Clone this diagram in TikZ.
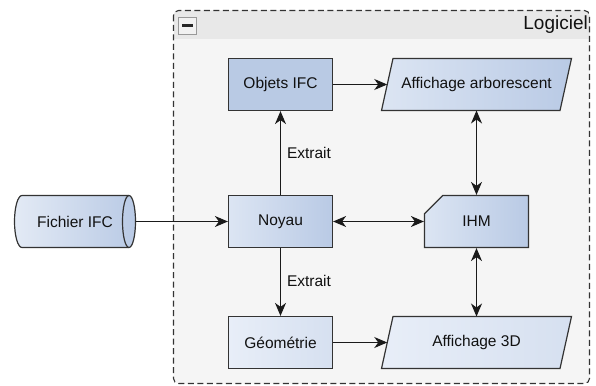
\documentclass[tikz,border=0pt]{standalone}
\usepackage{fontspec}
\setmainfont{Liberation Sans}
\usetikzlibrary{arrows.meta,calc,shapes.misc}
\definecolor{bodygray}{HTML}{F5F5F5}
\definecolor{headgray}{HTML}{E8E8E8}
\definecolor{lineC}{HTML}{333333}
\definecolor{arrC}{HTML}{1A1A1A}
\definecolor{txtC}{HTML}{111111}
\definecolor{gL}{HTML}{DCE5F3}
\definecolor{gD}{HTML}{B9CAE5}
\definecolor{objC}{HTML}{B9CAE4}
\definecolor{pL}{HTML}{E8EEF8}
\definecolor{pD}{HTML}{D6E0F0}
\definecolor{fL}{HTML}{E3EAF5}
\begin{document}
\begin{tikzpicture}[x=1pt,y=-1pt,
  txt/.style={text=txtC,font=\fontsize{15.5}{18}\selectfont,inner sep=0pt},
  box/.style={txt,draw=lineC,line width=1.2pt,minimum width=104pt,minimum height=52pt},
  holder/.style={inner sep=0pt,outer sep=0pt},
  shp/.style={draw=lineC,line width=1.2pt},
  arr/.style={draw=arrC,line width=1.1pt,-{Stealth[length=13pt,width=11pt,inset=4pt]}},
  arrb/.style={draw=arrC,line width=1.1pt,{Stealth[length=13pt,width=11pt,inset=4pt]}-{Stealth[length=13pt,width=11pt,inset=4pt]}},
  elbl/.style={txt,anchor=west,xshift=6pt}]
\useasboundingbox (0,0) rectangle (596,385);
% container
\node[holder,fill=bodygray,rounded corners=5pt,minimum width=416pt,minimum height=373pt] (sw) at (381.5,197) {};
\begin{scope}
  \clip[rounded corners=5pt] (sw.north west) rectangle (sw.south east);
  \fill[headgray] (sw.north west) rectangle ($(sw.north east)+(0,28.5)$);
\end{scope}
\draw[lineC,line width=1.1pt,dash pattern=on 6pt off 3.5pt,rounded corners=5pt] (sw.north west) rectangle (sw.south east);
\node[holder,draw=gray!80,fill=headgray!60,line width=0.8pt,minimum width=18pt,minimum height=17pt] (minus) at (187.5,25.5) {};
\fill[black!85] ($(minus.center)+(-5.5,-1.5)$) rectangle ($(minus.center)+(5.5,1.5)$);
\node[txt,anchor=east,font=\fontsize{19}{22}\selectfont] (logi) at (588,25) {Logiciel};
% plain boxes
\node[box,fill=objC] (obj) at (280.5,84.5) {Objets IFC};
\node[box,left color=gL,right color=gD] (noy) at (280.5,221.5) {Noyau};
\node[box,left color=pL,right color=pD] (geo) at (280.5,342.5) {Géométrie};
% IHM
\node[txt,chamfered rectangle,chamfered rectangle corners=north west,chamfered rectangle xsep=13pt,chamfered rectangle ysep=13pt,
  draw=lineC,line width=1.2pt,left color=gL,right color=gD,minimum width=104pt,minimum height=52pt] (ihm) at (476.5,221.5) {IHM};
% parallelograms
\node[holder,minimum width=178.5pt,minimum height=52pt] (aa) at (476.5,84.5) {};
\shadedraw[shp,left color=gL,right color=gD] ($(aa.north west)+(5.75,0)$) -- ($(aa.north east)+(5.75,0)$) -- ($(aa.south east)+(-5.75,0)$) -- ($(aa.south west)+(-5.75,0)$) -- cycle;
\node[txt] (aat) at (aa) {Affichage arborescent};
\node[holder,minimum width=178.5pt,minimum height=52pt] (a3) at (476.5,342.5) {};
\shadedraw[shp,left color=pL,right color=pD] ($(a3.north west)+(5.75,0)$) -- ($(a3.north east)+(5.75,0)$) -- ($(a3.south east)+(-5.75,0)$) -- ($(a3.south west)+(-5.75,0)$) -- cycle;
\node[txt] (a3t) at (a3) {Affichage 3D};
% cylinder
\node[holder,minimum width=121pt,minimum height=52pt] (fic) at (75,221.5) {};
\shadedraw[shp,left color=fL,right color=gD] ($(fic.north west)+(7.5,0)$) -- ($(fic.north east)+(-6.5,0)$) arc[start angle=90,end angle=-90,x radius=6.5pt,y radius=26pt] -- ($(fic.south west)+(7.5,0)$) arc[start angle=270,end angle=90,x radius=7.5pt,y radius=26pt] -- cycle;
\draw[shp] ($(fic.north east)+(-6.5,0)$) arc[start angle=90,end angle=270,x radius=6.5pt,y radius=26pt];
\node[txt] (fict) at (fic) {Fichier IFC};
% connectors
\draw[arr] (fic.east) -- (noy.west);
\draw[arr] (noy.north) -- node[elbl] (ex1) {Extrait} (obj.south);
\draw[arr] (noy.south) -- node[elbl,yshift=1.5pt] (ex2) {Extrait} (geo.north);
\draw[arr] (obj.east) -- (aa.west);
\draw[arr] (geo.east) -- (a3.west);
\draw[arrb] (noy.east) -- (ihm.west);
\draw[arrb] (ihm.north) -- (ihm.north |- aa.south);
\draw[arrb] (ihm.south) -- (ihm.south |- a3.north);
\end{tikzpicture}
\end{document}
